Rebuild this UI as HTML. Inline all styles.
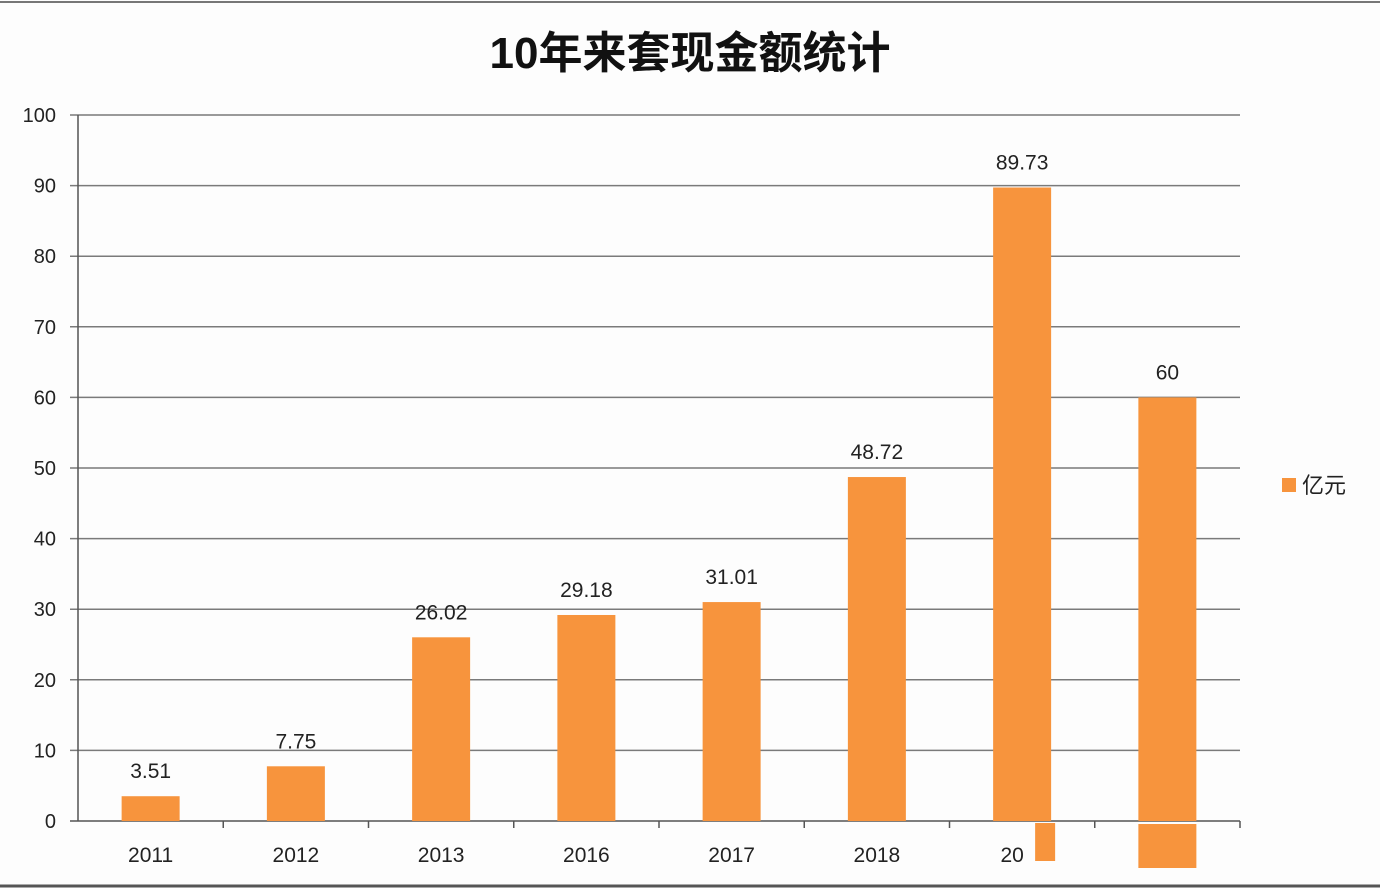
<!DOCTYPE html>
<html><head><meta charset="utf-8"><style>
body{margin:0;background:#fff;}
svg{display:block;font-family:"Liberation Sans","Noto Sans CJK SC",sans-serif;}
</style></head><body>
<svg id="chart" width="1380" height="888" viewBox="0 0 1380 888">
<rect x="0" y="0" width="1380" height="888" fill="#fdfdfd"/>
<line x1="0" y1="2" x2="1380" y2="2" stroke="#777" stroke-width="2"/>
<line x1="0" y1="886" x2="1380" y2="886" stroke="#555" stroke-width="3"/>
<text x="690" y="68" text-anchor="middle" font-size="44" font-weight="bold" fill="#111">10年来套现金额统计</text>
<g id="grid"></g><g id="bars"></g><g id="labels"></g>
<rect x="1282" y="478" width="14" height="14" fill="#f7943d"/>
<text x="1302" y="493" font-size="22" fill="#222">亿元</text>
</svg>
<script>
const categories=["2011","2012","2013","2016","2017","2018","20","2020"];
const values=[3.51,7.75,26.02,29.18,31.01,48.72,89.73,60];
const valueLabels=["3.51","7.75","26.02","29.18","31.01","48.72","89.73","60"];
const yTicks=[0,10,20,30,40,50,60,70,80,90,100];
const NS="http://www.w3.org/2000/svg";
const x0=78,x1=1240,y0=821,yTop=115;
const band=(x1-x0)/categories.length;
const y=v=>y0-(v/100)*(y0-yTop);
const xc=i=>x0+band*(i+0.5);
function mk(t,a,p){const e=document.createElementNS(NS,t);for(const k in a)e.setAttribute(k,a[k]);document.getElementById(p).appendChild(e);return e;}
yTicks.forEach(t=>{
 const l=mk("line",{x1:x0-8,x2:x1,y1:y(t),y2:y(t),stroke:t===0?"#555":"#7a7a7a","stroke-width":1.5},"grid");
 
 
 const tx=mk("text",{x:56,y:y(t)+7,"text-anchor":"end","font-size":20,fill:"#222"},"grid");
 tx.textContent=t;
 
 
});
const ax=mk("line",{x1:x0,x2:x0,y1:yTop,y2:y0,stroke:"#555","stroke-width":1.5},"grid");


for(let i=1;i<=categories.length;i++){
 const tk=mk("line",{x1:x0+band*i,x2:x0+band*i,y1:y0,y2:y0+7,stroke:"#555","stroke-width":1.5},"grid");
 
 
}
values.forEach((v,i)=>{
 const b=mk("rect",{x:xc(i)-29,y:y(v),width:58,height:y0-y(v),fill:"#f7943d"},"bars");
 
 
 const t=mk("text",{x:xc(i),y:y(v)-18,"text-anchor":"middle","font-size":21,fill:"#222"},"labels");
 t.textContent=valueLabels[i];
 
 
 if(i<categories.length-1){
  const c=mk("text",{x:xc(i)-(i===6?10:0),y:862,"text-anchor":"middle","font-size":21,fill:"#222"},"labels");
  c.textContent=categories[i];
  
  
 }
});
const b1=mk("rect",{x:xc(6)+13,y:y0+2,width:20,height:38,fill:"#f7943d"},"bars");


const b2=mk("rect",{x:xc(7)-29,y:y0+3,width:58,height:44,fill:"#f7943d"},"bars");


</script>
</body></html>
